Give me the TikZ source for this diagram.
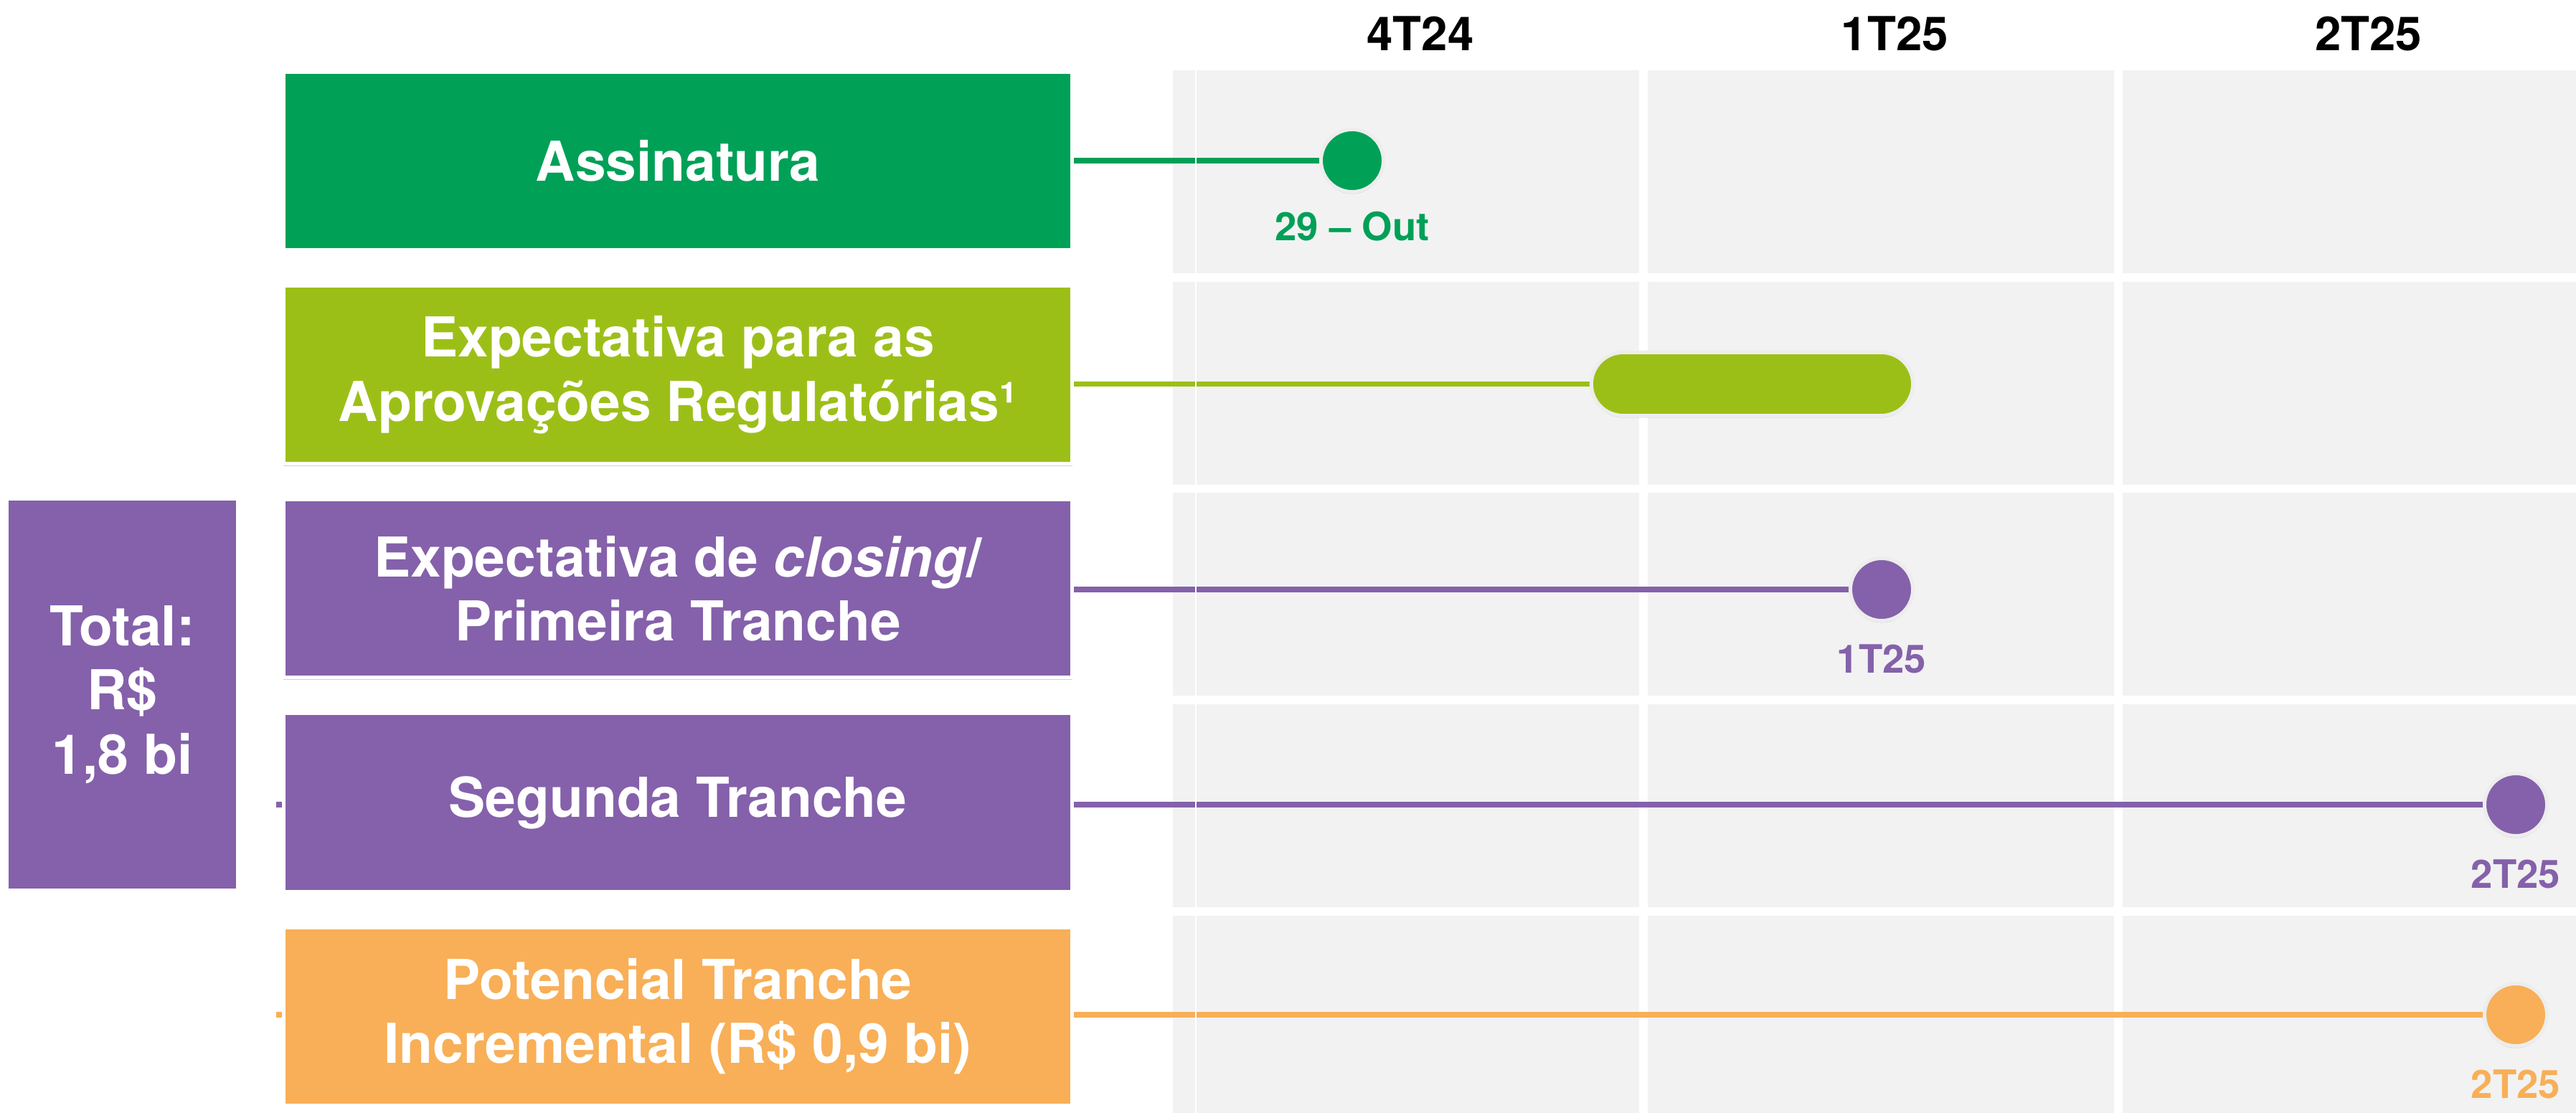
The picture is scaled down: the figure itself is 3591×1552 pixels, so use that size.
\documentclass[tikz,border=0pt]{standalone}
\usepackage{fontspec}
\setmainfont{TeX Gyre Heros}
\usetikzlibrary{positioning,shadows,backgrounds}
\pgfdeclarelayer{grid}
\pgfsetlayers{grid,background,main}

\definecolor{assgreen}{HTML}{00A057}
\definecolor{aprlime}{HTML}{9CBF18}
\definecolor{trpurple}{HTML}{8461AA}
\definecolor{incorange}{HTML}{F8AF57}
\definecolor{cellgray}{HTML}{F2F2F2}
\definecolor{ringgray}{HTML}{EDEDED}

\tikzstyle{box}=[draw=white, line width=0.05cm, minimum width=10.99cm, minimum height=2.48cm,
  text=white, align=center, font=\bfseries\fontsize{21.8}{25.5}\selectfont,
  drop shadow={shadow xshift=0pt, shadow yshift=-0.8pt, opacity=0.18, fill=black}]
\tikzstyle{milestone}=[circle, draw=ringgray, line width=0.05cm, minimum size=0.87cm, inner sep=0pt,
  drop shadow={shadow xshift=0pt, shadow yshift=-0.8pt, opacity=0.18, fill=black}]
\tikzstyle{link}=[line width=0.075cm]
\tikzstyle{when}=[font=\bfseries\fontsize{15.5}{18}\selectfont, inner sep=0pt]
\tikzstyle{quarter}=[font=\bfseries\fontsize{18.6}{22}\selectfont, inner sep=0pt]
\tikzstyle{cell}=[fill=cellgray, draw=none]

\begin{document}
\begin{tikzpicture}[x=0.01cm, y=-0.01cm]
    \useasboundingbox (0,0) rectangle (3591,1552);
    % grey grid behind the timeline
    \begin{pgfonlayer}{grid}
        \foreach \gx in {1635,2297,2959} {
            \foreach \gy in {98,393,687,982,1277} {
                \path [cell] (\gx,\gy) rectangle +(650,283);
            }
        }
    \end{pgfonlayer}

    \node (h1) [quarter] at (1980,47)                 {4T24};
    \node (h2) [quarter, node distance=6.61cm, right of=h1] {1T25};
    \node (h3) [quarter, node distance=6.6cm, right of=h2]  {2T25};

    \node (assin)     [box, fill=assgreen] at (945,224.5)          {Assinatura};
    \node (aprov)     [box, fill=aprlime, below=0.45cm of assin]   {Expectativa para as\\Aprovações Regulatórias¹};
    \node (closing)   [box, fill=trpurple, below=0.45cm of aprov]  {Expectativa de \textit{closing}/\\Primeira Tranche};
    \node (segunda)   [box, fill=trpurple, below=0.45cm of closing] {Segunda Tranche};
    \node (potencial) [box, fill=incorange, below=0.45cm of segunda] {Potencial Tranche\\Incremental (R\$ 0,9 bi)};
    \node (total)     [box, fill=trpurple, minimum width=3.22cm, minimum height=5.46cm] at (170.5,968.5) {Total:\\R\$\\1,8 bi};

    \node (mAssin)     [milestone, fill=assgreen]  at (1885,224)   {};
    \node (mAprov)     [milestone, rectangle, rounded corners=0.44cm, minimum width=4.48cm, minimum height=0.88cm, fill=aprlime] at (2442.5,535.5) {};
    \node (mClosing)   [milestone, fill=trpurple]  at (2623,822)   {};
    \node (mSegunda)   [milestone, fill=trpurple]  at (3507,1122)  {};
    \node (mPotencial) [milestone, fill=incorange] at (3507,1415)  {};

    \node (lAssin)     [when, text=assgreen, below=0.24cm of mAssin]      {29 -- Out};
    \node (lClosing)   [when, text=trpurple, below=0.3cm of mClosing]     {1T25};
    \node (lSegunda)   [when, text=trpurple, below=0.3cm of mSegunda]     {2T25};
    \node (lPotencial) [when, text=incorange, below=0.3cm of mPotencial]  {2T25};

    % connectors under the boxes, over the grid
    \begin{scope}[on background layer]
        \draw [link, assgreen]  (assin.east |- mAssin) -- (mAssin);
        \draw [link, aprlime]   (aprov.east |- mAprov) -- (mAprov);
        \draw [link, trpurple]  (closing.east |- mClosing) -- (mClosing);
        \draw [link, trpurple]  ([xshift=-0.08cm]segunda.west |- mSegunda) -- (mSegunda);
        \draw [link, incorange] ([xshift=-0.08cm]potencial.west |- mPotencial) -- (mPotencial);
        \draw [white, line width=0.02cm] (1667,98) -- (1667,1552);
    \end{scope}
\end{tikzpicture}
\end{document}
